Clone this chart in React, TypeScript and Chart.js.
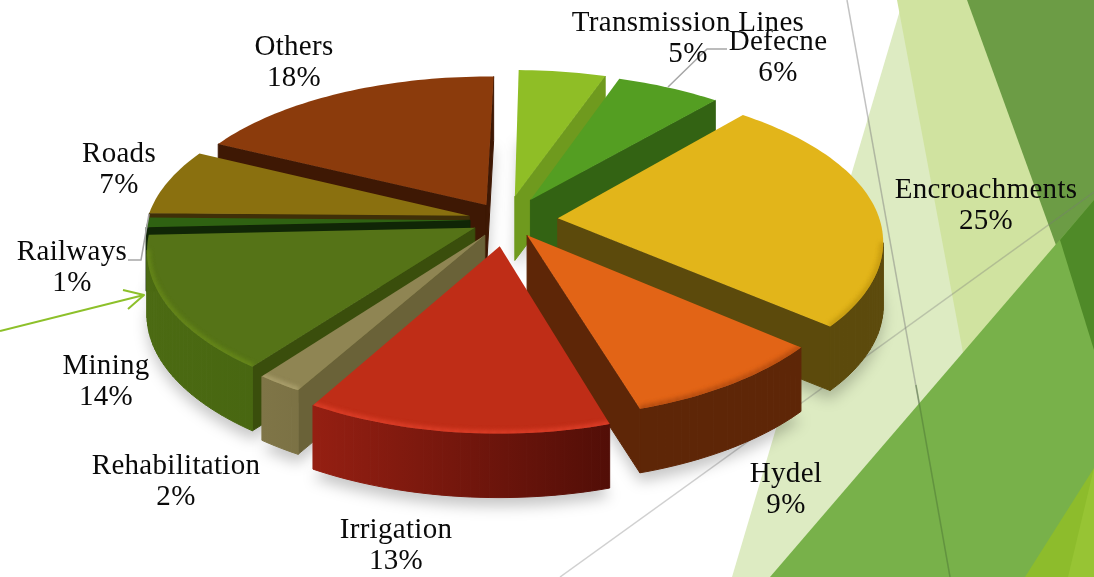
import React, { useEffect, useRef } from "react";
import { Chart, registerables } from "chart.js";

Chart.register(...registerables);

const categories = ["Transmission Lines", "Defecne", "Encroachments", "Hydel", "Irrigation", "Rehabilitation", "Mining", "Railways", "Roads", "Others"];
const shares = [5, 6, 25, 9, 13, 2, 14, 1, 7, 18];
const explode = [52, 50, 52, 38, 55, 38, 35, 36, 38, 38];

const topColors = ["#8FBE26", "#549E22", "#E2B51A", "#E26416", "#BF2D17", "#8F8553", "#557317", "#2F6212", "#8A700F", "#8B3B0C"];
const cutColors = ["#6F9A1E", "#336313", "#5C4A0C", "#5E2607", "#5E2607", "#6A6238", "#3A4E0C", "#102606", "#3F2F08", "#3E1804"];
const outerLeft = ["#6F9A1E", "#336313", "#5C4A0C", "#5E2607", "#951F12", "#7F7547", "#4B6A12", "#102606", "#3F2F08", "#3E1804"];
const outerRight = ["#6F9A1E", "#336313", "#5C4A0C", "#5E2607", "#520E07", "#6A6238", "#42600F", "#102606", "#3F2F08", "#3E1804"];
const rimColors = ["#8FBE26", "#549E22", "#C0960F", "#B04A10", "#E0402A", "#B0A572", "#6A8C1A", "#2F6212", "#8A700F", "#8B3B0C"];

const labelX = [688, 778, 986, 786, 396, 176, 106, 72, 119, 294];
const labelY = [31, 50, 198, 482, 538, 474, 374, 260, 162, 55];

const PIE_RADIUS = 322;
const PERSPECTIVE_X = 2400;
const PERSPECTIVE_Y = 2200;
const TILT = 0.47;
const DEPTH = 64;

type P = { x: number; y: number };

function tracePoly(ctx: CanvasRenderingContext2D, pts: P[]) {
  ctx.beginPath();
  pts.forEach((p, i) => (i ? ctx.lineTo(p.x, p.y) : ctx.moveTo(p.x, p.y)));
  ctx.closePath();
}

function fillPts(ctx: CanvasRenderingContext2D, color: string, coords: number[]) {
  const pts: P[] = [];
  for (let i = 0; i < coords.length; i += 2) pts.push({ x: coords[i], y: coords[i + 1] });
  tracePoly(ctx, pts);
  ctx.fillStyle = color;
  ctx.fill();
}

function strokeLine(ctx: CanvasRenderingContext2D, color: string, w: number, coords: number[]) {
  ctx.beginPath();
  for (let i = 0; i < coords.length; i += 2) {
    if (i) ctx.lineTo(coords[i], coords[i + 1]);
    else ctx.moveTo(coords[i], coords[i + 1]);
  }
  ctx.strokeStyle = color;
  ctx.lineWidth = w;
  ctx.stroke();
}

const backdrop = {
  id: "backdrop",
  beforeDraw(chart: any) {
    const ctx: CanvasRenderingContext2D = chart.ctx;
    ctx.save();
    ctx.fillStyle = "#FFFFFF";
    ctx.fillRect(0, 0, 1094, 577);
    fillPts(ctx, "#DDEBC2", [903, 0, 1094, 0, 1094, 577, 732, 577]);
    fillPts(ctx, "#D0E3A0", [897, 0, 1094, 0, 1094, 577, 1005, 577]);
    fillPts(ctx, "#6C9C45", [967, 0, 1094, 0, 1094, 350]);
    strokeLine(ctx, "rgba(120,120,120,0.45)", 1.5, [847, 0, 950, 577]);
    strokeLine(ctx, "rgba(120,120,120,0.35)", 1.5, [560, 577, 1094, 192]);
    fillPts(ctx, "#78B14A", [770, 577, 1094, 200, 1094, 577]);
    fillPts(ctx, "#4F8A28", [1060, 240, 1094, 200, 1094, 350]);
    fillPts(ctx, "#8DBC2C", [1025, 577, 1094, 468, 1094, 577]);
    fillPts(ctx, "#97C434", [1068, 577, 1094, 468, 1094, 577]);
    strokeLine(ctx, "rgba(70,110,50,0.45)", 1.5, [916, 385, 950, 577]);
    ctx.restore();
  },
};

const solidPie = {
  id: "solidPie",
  beforeDatasetDraw() {
    return false;
  },
  afterDatasetsDraw(chart: any) {
    const ctx: CanvasRenderingContext2D = chart.ctx;
    const arcs = chart.getDatasetMeta(0).data;
    const slices = arcs.map((arc: any, i: number) => {
      const { x: cx, y: cy, startAngle, endAngle, outerRadius } = arc.getProps(["x", "y", "startAngle", "endAngle", "outerRadius"], true);
      const mid = (startAngle + endAngle) / 2;
      const off = arc.options.offset || 0;
      const ax = off * Math.cos(mid);
      const ay = off * Math.sin(mid);
      const project = (u: number, v: number, d: number): P => {
        const sx = PERSPECTIVE_X / (PERSPECTIVE_X - v);
        const sy = PERSPECTIVE_Y / (PERSPECTIVE_Y - v);
        return { x: cx + u * sx, y: cy + v * sy * TILT + d };
      };
      const steps = Math.max(4, Math.ceil((endAngle - startAngle) * 40));
      const plane: [number, number][] = [[ax, ay]];
      for (let k = 0; k <= steps; k++) {
        const a = startAngle + ((endAngle - startAngle) * k) / steps;
        plane.push([ax + outerRadius * Math.cos(a), ay + outerRadius * Math.sin(a)]);
      }
      return {
        i,
        order: Math.sin(mid),
        top: plane.map(([u, v]) => project(u, v, 0)),
        bottom: plane.map(([u, v]) => project(u, v, DEPTH)),
      };
    });

    ctx.save();
    ctx.filter = "blur(7px)";
    ctx.fillStyle = "rgba(0,0,0,0.22)";
    slices.forEach((s: any) => {
      tracePoly(ctx, s.bottom.map((p: P) => ({ x: p.x, y: p.y + 9 })));
      ctx.fill();
    });
    ctx.restore();

    [...slices].sort((a: any, b: any) => a.order - b.order).forEach((s: any) => {
      const n = s.top.length;
      const xs = s.top.map((p: P) => p.x);
      const grad = ctx.createLinearGradient(Math.min(...xs), 0, Math.max(...xs), 0);
      grad.addColorStop(0, outerLeft[s.i]);
      grad.addColorStop(1, outerRight[s.i]);
      ctx.lineWidth = 1;
      ctx.lineJoin = "round";
      for (let e = 0; e < n; e++) {
        const a = s.top[e];
        const b = s.top[(e + 1) % n];
        if (b.x - a.x >= 0) continue;
        const isArc = e > 0 && e < n - 1;
        const paint = isArc ? grad : cutColors[s.i];
        ctx.fillStyle = paint;
        ctx.strokeStyle = paint;
        const quad = [a, b, s.bottom[(e + 1) % n], s.bottom[e]];
        tracePoly(ctx, quad);
        ctx.fill();
        ctx.stroke();
      }
      tracePoly(ctx, s.top);
      ctx.fillStyle = topColors[s.i];
      ctx.fill();
      ctx.save();
      tracePoly(ctx, s.top);
      ctx.clip();
      ctx.filter = "blur(2px)";
      ctx.strokeStyle = rimColors[s.i];
      ctx.lineWidth = 6;
      for (let e = 1; e < n - 1; e++) {
        const a = s.top[e];
        const b = s.top[e + 1];
        if (b.x - a.x >= 0) continue;
        ctx.beginPath();
        ctx.moveTo(a.x, a.y);
        ctx.lineTo(b.x, b.y);
        ctx.stroke();
      }
      ctx.restore();
    });
  },
};

const annotations = {
  id: "annotations",
  afterDraw(chart: any) {
    const ctx: CanvasRenderingContext2D = chart.ctx;
    ctx.save();
    strokeLine(ctx, "#A6A6A6", 1.5, [668, 87, 707, 49, 727, 49]);
    strokeLine(ctx, "#A6A6A6", 1.5, [128, 260, 141, 260, 149, 214]);
    strokeLine(ctx, "#8DC02A", 2, [0, 331, 144, 295]);
    strokeLine(ctx, "#8DC02A", 2, [123, 290, 144, 295, 128, 309]);
    ctx.font = '29px "Liberation Serif"';
    (ctx as any).letterSpacing = "0.3px";
    ctx.fillStyle = "#0A0A0A";
    ctx.textAlign = "center";
    ctx.textBaseline = "alphabetic";
    categories.forEach((name, i) => {
      ctx.fillText(name, labelX[i], labelY[i]);
      ctx.fillText(`${shares[i]}%`, labelX[i], labelY[i] + 31);
    });
    ctx.restore();
  },
};

export default function App() {
  const ref = useRef<HTMLCanvasElement | null>(null);
  useEffect(() => {
    document.body.style.margin = "0";
    const chart = new Chart(ref.current as HTMLCanvasElement, {
      type: "pie",
      data: {
        labels: categories,
        datasets: [{ data: shares, backgroundColor: topColors, offset: explode, borderWidth: 0 }],
      },
      options: {
        responsive: false,
        animation: false,
        radius: PIE_RADIUS,
        rotation: 1,
        layout: { padding: { right: 82, bottom: 137 } },
        plugins: { legend: { display: false }, tooltip: { enabled: false } },
      },
      plugins: [backdrop, solidPie, annotations],
    } as any);
    return () => chart.destroy();
  }, []);
  return <canvas ref={ref} width={1094} height={577} style={{ display: "block" }} />;
}
